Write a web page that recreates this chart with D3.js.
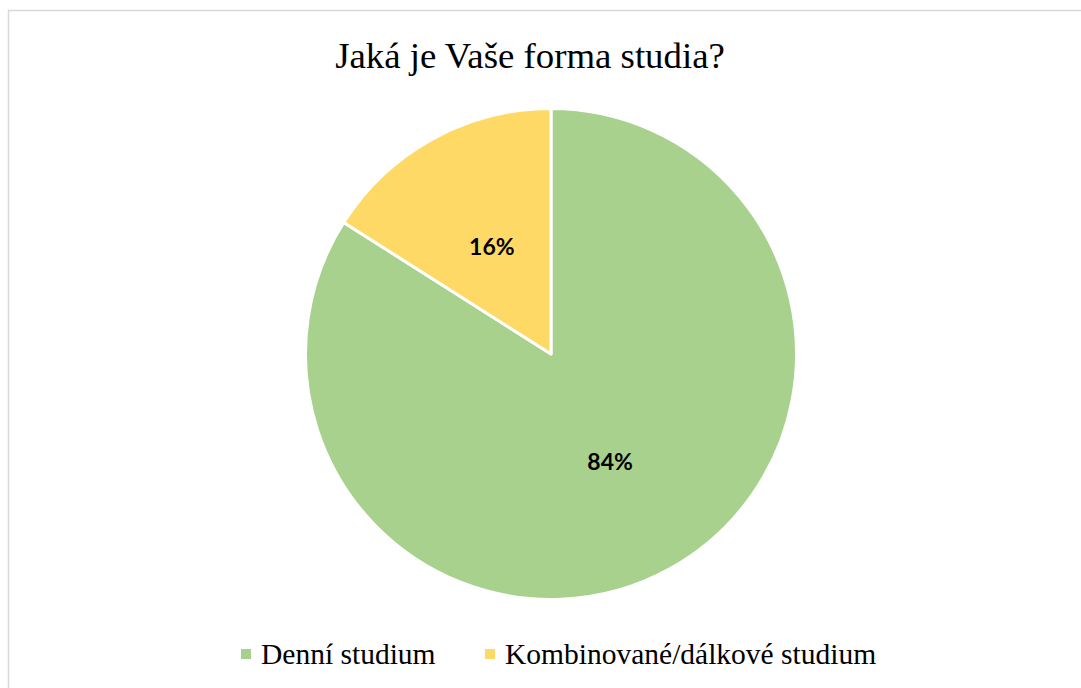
<!DOCTYPE html>
<html>
<head>
<meta charset="utf-8">
<script src="https://cdn.jsdelivr.net/npm/d3@7"></script>
<style>
  body { margin: 0; background: #fff; }
  .serif { font-family: "Liberation Serif", "Times New Roman", serif; }
</style>
</head>
<body>
<div id="root"></div>
<script>
//DATA
const categories = ["Denní studium", "Kombinované/dálkové studium"];
const values = [84, 16];
const colors = ["#A9D18E", "#FFD966"];
const title = "Jaká je Vaše forma studia?";

//DIMENSIONS
const width = 1081, height = 688;
const cx = 551, cy = 354, radius = 245.5;

//CREATE SVG
const svg = d3.select("#root")
  .append("svg")
  .attr("width", width)
  .attr("height", height);

// chart frame (runs off right and bottom edges)
svg.append("rect")
  .attr("x", 8.5).attr("y", 10.5)
  .attr("width", 1100).attr("height", 700)
  .attr("fill", "none")
  .attr("stroke", "#d9d9d9")
  .attr("stroke-width", 1.5);

//TITLE
svg.append("text")
  .attr("class", "serif")
  .attr("x", 530).attr("y", 68)
  .attr("text-anchor", "middle")
  .attr("font-size", 36.8)
  .attr("fill", "#000")
  .text(title);

//PIE
const color = d3.scaleOrdinal().domain(categories).range(colors);
const pie = d3.pie().sort(null).value(d => d.value);
const data = categories.map((c, i) => ({name: c, value: values[i]}));
const arcs = pie(data);

const arc = d3.arc().innerRadius(0).outerRadius(radius);
const labelArc = d3.arc().innerRadius(radius * 0.5).outerRadius(radius * 0.5);

const g = svg.append("g").attr("transform", `translate(${cx},${cy})`);

g.selectAll("path")
  .data(arcs)
  .join("path")
  .attr("d", arc)
  .attr("fill", d => color(d.data.name))
  .attr("stroke", "#fff")
  .attr("stroke-width", 3)
  .attr("stroke-linejoin", "round");

const total = d3.sum(values);
g.selectAll("text.lbl")
  .data(arcs)
  .join("text")
  .attr("class", "lbl")
  .attr("transform", d => `translate(${labelArc.centroid(d)})`)
  .attr("text-anchor", "middle")
  .attr("dy", "0.36em")
  .attr("font-family", "Lato, sans-serif")
  .attr("font-weight", "bold")
  .attr("font-size", 23)
  .attr("fill", "#000")
  .text(d => Math.round(d.data.value / total * 100) + "%");

//LEGEND
const legendX = [241, 485];
const legend = svg.append("g");
const item = legend.selectAll("g")
  .data(categories)
  .join("g")
  .attr("transform", (d, i) => `translate(${legendX[i]},0)`);

item.append("rect")
  .attr("x", 0).attr("y", 649)
  .attr("width", 10).attr("height", 10)
  .attr("fill", d => color(d));

item.append("text")
  .attr("class", "serif")
  .attr("x", 20).attr("y", 664)
  .attr("font-size", 29.5)
  .attr("fill", "#000")
  .text(d => d);
</script>
</body>
</html>
